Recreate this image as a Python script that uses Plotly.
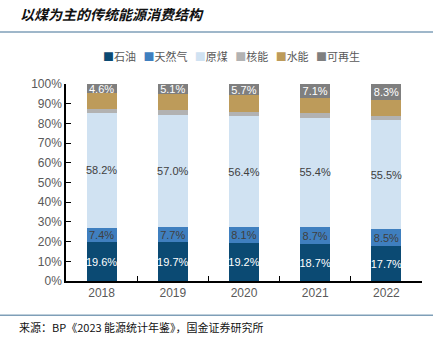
import plotly.graph_objects as go

years = ["2018", "2019", "2020", "2021", "2022"]
oil = [19.6, 19.7, 19.2, 18.7, 17.7]
gas = [7.4, 7.7, 8.1, 8.7, 8.5]
coal = [58.2, 57.0, 56.4, 55.4, 55.5]
nuclear = [2.0, 2.2, 2.2, 2.3, 2.3]
hydro = [8.2, 8.3, 8.4, 7.8, 7.7]
renew = [4.6, 5.1, 5.7, 7.1, 8.3]

series = [
    ("石油", oil, "#0B4A73", "white", True),
    ("天然气", gas, "#3F7FBF", "#404040", True),
    ("原煤", coal, "#D0E2F2", "#404040", True),
    ("核能", nuclear, "#B2B2B2", "#404040", False),
    ("水能", hydro, "#BD9B5A", "#404040", False),
    ("可再生", renew, "#7F7F7F", "white", True),
]

FONT = "Noto Sans CJK SC"
fig = go.Figure()
for name, vals, col, tcol, show in series:
    fig.add_trace(go.Bar(
        x=years, y=vals, name=name,
        marker=dict(color=col, line=dict(width=0)),
        text=[f"{v:.1f}%" for v in vals] if show else None,
        texttemplate="%{text}" if show else None,
        textposition="inside" if show else "none",
        insidetextanchor="middle",
        constraintext="none",
        textangle=0,
        textfont=dict(color=tcol, size=11, family="Liberation Sans"),
        hoverinfo="skip",
        showlegend=False,
    ))

legend_html = "&nbsp;&nbsp;&nbsp;".join(
    f"<span style='color:{col}'>■</span>{name}" for name, _, col, _, _ in series
)

fig.update_layout(
    barmode="stack",
    bargap=0.58,
    width=433, height=337,
    margin=dict(l=66, r=11, t=84, b=56),
    paper_bgcolor="white", plot_bgcolor="white",
    font=dict(family=FONT, size=11, color="#595959"),
    title=dict(text="<b><i>以煤为主的传统能源消费结构</i></b>", x=0.046, xanchor="left",
               y=1 - 15 / 337, yanchor="middle",
               font=dict(family=FONT, size=14, color="#111111")),
    showlegend=False,
    xaxis=dict(showline=True, linecolor="black", linewidth=1.5,
               ticks="inside", tickson="boundaries", ticklen=5, tickcolor="black",
               tickfont=dict(family="Liberation Sans, Arial", size=12, color="#595959"),
               showgrid=False),
    yaxis=dict(range=[0, 100], dtick=10, ticksuffix="%", showline=True,
               linecolor="black", linewidth=1.5, ticks="inside", ticklen=5,
               tickcolor="black", showgrid=False, zeroline=False,
               tickfont=dict(family="Liberation Sans, Arial", size=12, color="#595959")),
    shapes=[
        dict(type="line", xref="paper", yref="paper", x0=-0.2, x1=1.05,
             y0=1.264, y1=1.264, line=dict(color="#7F9FB8", width=1.5)),
        dict(type="line", xref="paper", yref="paper", x0=-0.2, x1=1.05,
             y0=-0.174, y1=-0.174, line=dict(color="#7F9FB8", width=1.5)),
    ],
    annotations=[
        dict(text=legend_html, xref="paper", yref="paper", x=0.466, y=1.142,
             xanchor="center", yanchor="middle", showarrow=False,
             font=dict(family=FONT, size=11, color="#595959")),
        dict(text="来源：BP《2023 能源统计年鉴》，国金证券研究所", xref="paper", yref="paper",
             x=-0.138, y=-0.235, xanchor="left", yanchor="middle", showarrow=False,
             font=dict(family=FONT, size=11, color="#111111")),
    ],
)

fig.write_html("out.html")
